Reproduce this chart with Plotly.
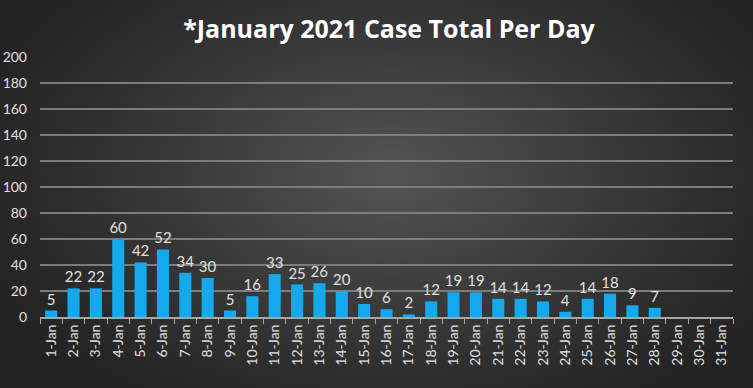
import base64, zlib, struct
import numpy as np
import plotly.graph_objects as go

days = [f"{d}-Jan" for d in range(1, 32)]
cases = [5, 22, 22, 60, 42, 52, 34, 30, 5, 16, 33, 25, 26, 20, 10, 6, 2, 12,
         19, 19, 14, 14, 12, 4, 14, 18, 9, 7, None, None, None]
y_ticks = list(range(0, 201, 20))

W, H = 753, 388
L, R, T, B = 40, 20, 57, 71

# radial gradient background as PNG data URI
yy, xx = np.mgrid[0:H, 0:W]
cx, cy = W * 0.52, H * 0.45
r = np.sqrt(((xx - cx) / (W * 0.62)) ** 2 + ((yy - cy) / (H * 0.75)) ** 2)
r = np.clip(r, 0, 1)
c0, c1 = 0x55, 0x22
val = (c1 + (c0 - c1) * (1 - r) ** 1.2).astype(np.uint8)
rgb = np.dstack([val, val, val])
raw = b"".join(b"\x00" + rgb[i].tobytes() for i in range(H))
def chunk(t, d):
    c = struct.pack(">I", len(d)) + t + d
    return c + struct.pack(">I", zlib.crc32(t + d) & 0xffffffff)
png = b"\x89PNG\r\n\x1a\n" + chunk(b"IHDR", struct.pack(">IIBBBBB", W, H, 8, 2, 0, 0, 0)) \
      + chunk(b"IDAT", zlib.compress(raw, 9)) + chunk(b"IEND", b"")
uri = "data:image/png;base64," + base64.b64encode(png).decode()

pw, ph = W - L - R, H - T - B
FONT = "Lato, Open Sans, sans-serif"

fig = go.Figure(go.Bar(
    x=days, y=cases,
    marker=dict(color="#14a9ec", line=dict(width=0)),
    text=[str(v) if v is not None else "" for v in cases],
    textposition="outside",
    constraintext="none",
    textfont=dict(family=FONT, size=15, color="#e0e0e0"),
    cliponaxis=False,
))

fig.update_layout(
    width=W, height=H,
    margin=dict(l=L, r=R, t=T, b=B, autoexpand=False),
    paper_bgcolor="#2a2a2a",
    plot_bgcolor="rgba(0,0,0,0)",
    bargap=0.46,
    showlegend=False,
    title=dict(text="<b>*January 2021 Case Total Per Day</b>", x=389 / W, xanchor="center",
               y=1 - 29 / H, yanchor="middle",
               font=dict(family="Open Sans, sans-serif", size=25, color="#ffffff")),
    images=[dict(source=uri, xref="paper", yref="paper",
                 x=-L / pw, y=1 + T / ph, sizex=W / pw, sizey=H / ph,
                 xanchor="left", yanchor="top", sizing="stretch", layer="below")],
    xaxis=dict(
        tickangle=-90, showline=True, linecolor="#a6a6a6", linewidth=2,
        ticks="outside", tickson="boundaries", ticklen=5, tickcolor="#a6a6a6", tickwidth=1,
        tickfont=dict(family=FONT, size=14, color="#e0e0e0"),
        showgrid=False, fixedrange=True, automargin=False,
    ),
    yaxis=dict(
        range=[0, 200], tickvals=y_ticks, ticktext=[str(v) for v in y_ticks],
        showgrid=True, gridcolor="#7c7c7c", gridwidth=2, zeroline=False,
        tickfont=dict(family=FONT, size=14, color="#e0e0e0"),
        ticks="", ticklabelstandoff=12, fixedrange=True, automargin=False,
    ),
)

fig.write_html("out.html", config={"displayModeBar": False},
               post_script="document.body.style.margin='0';document.body.style.background='#2a2a2a';")
